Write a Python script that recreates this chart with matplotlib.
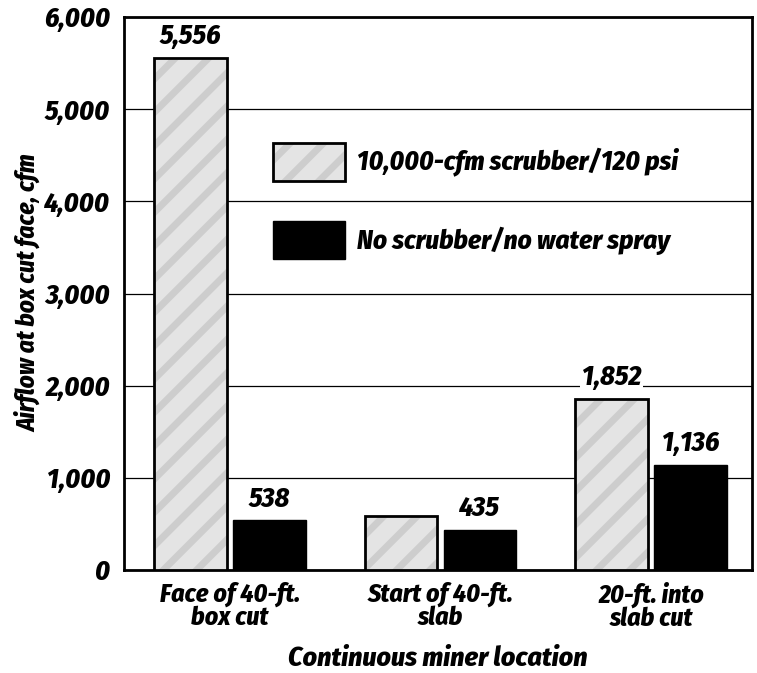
import matplotlib
matplotlib.use("Agg")
import matplotlib.pyplot as plt
import numpy as np

# data
locations = ["Face of 40-ft.\nbox cut", "Start of 40-ft.\nslab", "20-ft. into\nslab cut"]
scrubber = [5556, 590, 1852]
no_scrubber = [538, 435, 1136]
scrubber_labels = ["5,556", "", "1,852"]
no_scrubber_labels = ["538", "435", "1,136"]
series_names = ["10,000-cfm scrubber/120 psi", "No scrubber/no water spray"]
yticks = [0, 1000, 2000, 3000, 4000, 5000, 6000]

plt.rcParams['font.family'] = ['Fira Sans Condensed', 'DejaVu Sans']
plt.rcParams['font.weight'] = 800
plt.rcParams['font.style'] = 'italic'
plt.rcParams['axes.labelweight'] = 800
plt.rcParams['hatch.linewidth'] = 5

fig = plt.figure(figsize=(7.57, 6.73), dpi=100)
ax = fig.add_axes([0.1638, 0.1530, 0.8296, 0.8217])

x = np.arange(len(locations))
w = 0.345
off = 0.187

# hatched fill first (hatch takes the edge colour), then a black outline on top
b1 = ax.bar(x - off, scrubber, w, facecolor='#e4e4e4', edgecolor='#cdcdcd',
            linewidth=0, hatch='/', zorder=3)
b1_edge = ax.bar(x - off, scrubber, w, fill=False, edgecolor='black',
                 linewidth=2, zorder=3)
b2 = ax.bar(x + off, no_scrubber, w, facecolor='black', edgecolor='black',
            linewidth=1, zorder=3)

lab_font = dict(fontsize=20, fontweight=800, fontstyle='italic')
for bar, lab in zip(b1, scrubber_labels):
    if lab:
        ax.annotate(lab, (bar.get_x() + bar.get_width() / 2, bar.get_height()),
                    xytext=(0, 6), textcoords='offset points', ha='center', va='bottom',
                    zorder=4, bbox=dict(facecolor='white', edgecolor='none', pad=1), **lab_font)
for bar, lab in zip(b2, no_scrubber_labels):
    ax.annotate(lab, (bar.get_x() + bar.get_width() / 2, bar.get_height()),
                xytext=(0, 6), textcoords='offset points', ha='center', va='bottom',
                zorder=4, bbox=dict(facecolor='white', edgecolor='none', pad=1), **lab_font)

ax.set_xlim(-0.504, 2.48)
ax.set_ylim(0, 6000)
ax.set_yticks(yticks)
ax.set_yticklabels([f"{v:,}" for v in yticks], fontsize=20)
ax.set_xticks(x)
ax.set_xticklabels(locations, fontsize=18.5, linespacing=0.95)
ax.tick_params(length=0, pad=8)
ax.tick_params(axis='y', pad=10)
ax.yaxis.grid(True, color='black', linewidth=0.9, zorder=0)
ax.set_axisbelow(True)
for s in ax.spines.values():
    s.set_linewidth(2)

ax.set_ylabel("Airflow at box cut face, cfm", fontsize=18, labelpad=2)
ax.set_xlabel("Continuous miner location", fontsize=20, labelpad=10)

ax.legend(handles=[(b1[0], b1_edge[0]), b2[0]], labels=series_names,
          loc='upper left', bbox_to_anchor=(0.237, 0.772), frameon=False,
          fontsize=19.5, handlelength=2.67, handleheight=1.75, handletextpad=0.45,
          labelspacing=1.5, borderpad=0, borderaxespad=0)

fig.savefig("out.png", dpi=100)
